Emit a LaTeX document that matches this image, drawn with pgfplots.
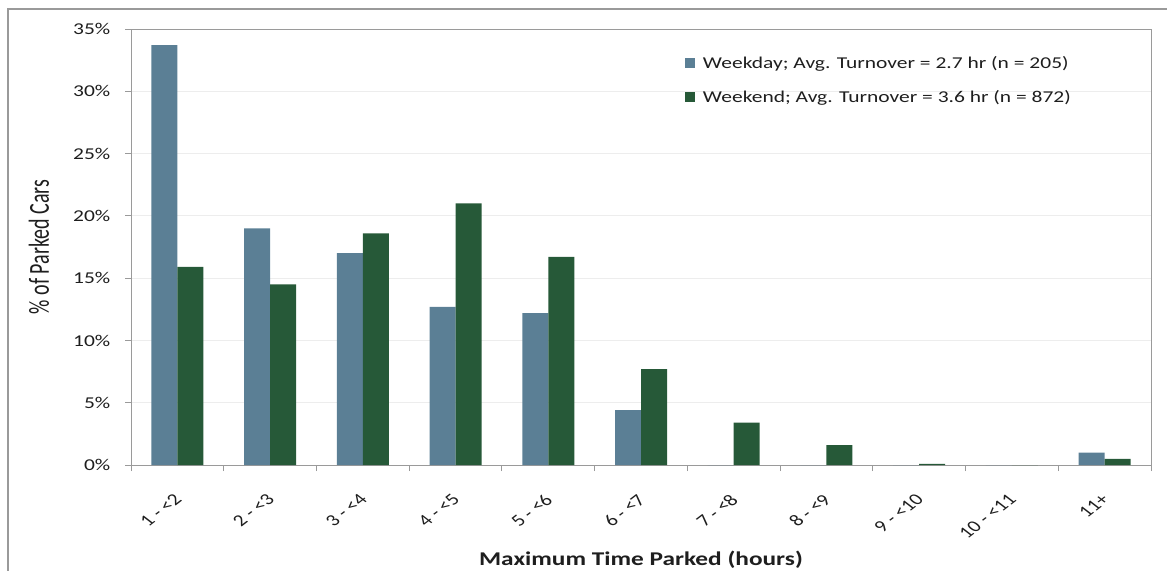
\documentclass[border=0pt]{standalone}
\usepackage{pgfplots}
\pgfplotsset{compat=1.18}
\usepackage{fontspec}
\setmainfont{Carlito}[FakeStretch=1.3]
\newfontfamily\plainfont{Carlito}
\definecolor{wkday}{HTML}{5B7F95}
\definecolor{wkend}{HTML}{265938}
\definecolor{axgray}{HTML}{9A9A9A}
\definecolor{gridc}{HTML}{EDEDED}
\definecolor{txt}{HTML}{1E1E1E}
\begin{document}
\begin{tikzpicture}
\path[use as bounding box] (0,0) rectangle (875.25pt,-428.25pt);
\draw[axgray, line width=1.2pt] (6pt,-430pt) -- (6pt,-6.75pt) -- (877pt,-6.75pt);
\begin{axis}[
  at={(98.25pt,-348.75pt)}, anchor=south west,
  scale only axis, width=765pt, height=327pt,
  ybar=0pt, bar width=19.5pt,
  xmin=-0.5, xmax=10.5, ymin=0, ymax=35,
  xtick={0,1,2,3,4,5,6,7,8,9,10},
  xticklabels={1 - <2, 2 - <3, 3 - <4, 4 - <5, 5 - <6, 6 - <7, 7 - <8, 8 - <9, 9 - <10, 10 - <11, 11+},
  minor xtick={-0.5,0.5,1.5,2.5,3.5,4.5,5.5,6.5,7.5,8.5,9.5,10.5},
  ytick={0,5,10,15,20,25,30,35},
  yticklabel={\pgfmathprintnumber{\tick}\%},
  /pgf/number format/assume math mode=true,
  tick pos=left, tick align=outside,
  major tick length=4.5pt, minor tick length=4.5pt,
  major x tick style={draw=none},
  every tick/.style={axgray, line width=0.75pt},
  minor x tick style={axgray, line width=0.75pt},
  axis line style={axgray, line width=0.75pt},
  ymajorgrids, major grid style={gridc, line width=0.75pt},
  yticklabel style={font=\fontsize{12.4}{14}\selectfont, text=txt, xshift=-7.5pt},
  xticklabel shift=20pt,
  xticklabel style={font=\plainfont\fontsize{12.4}{14}\selectfont, text=txt, xscale=1.3, rotate=45, anchor=east, xshift=4pt},
  xlabel={\bfseries\fontsize{14.6}{16}\selectfont Maximum Time Parked (hours)},
  xlabel style={at={(axis description cs:0.5,0)}, anchor=base, yshift=-75pt, text=txt},
  ylabel={\scalebox{1}[1.45]{\plainfont\fontsize{15}{17}\selectfont \% of Parked Cars}},
  ylabel style={at={(axis description cs:-0.0902,0.5)}, anchor=center, text=txt},
  legend style={at={(rel axis cs:0.543,0.945)}, anchor=north west, draw=none, fill=none,
    font=\fontsize{12.4}{14}\selectfont, text=txt, row sep=11pt, inner sep=0pt},
  legend cell align=left,
  legend image code/.code={\fill[#1,draw=none] (0pt,-3.9pt) rectangle (7.6pt,3.9pt); \path (11.4pt,0pt);},
]
\addplot[fill=wkday, draw=none] coordinates {
 (0,33.7) (1,19.0) (2,17.0) (3,12.7) (4,12.2) (5,4.4) (6,0) (7,0) (8,0) (9,0) (10,1.0)};
\addplot[fill=wkend, draw=none] coordinates {
 (0,15.9) (1,14.5) (2,18.6) (3,21.0) (4,16.7) (5,7.7) (6,3.4) (7,1.6) (8,0.1) (9,0) (10,0.5)};
\legend{Weekday; Avg. Turnover = 2.7 hr (n = 205), Weekend; Avg. Turnover = 3.6 hr (n = 872)}
\end{axis}
\end{tikzpicture}
\end{document}
